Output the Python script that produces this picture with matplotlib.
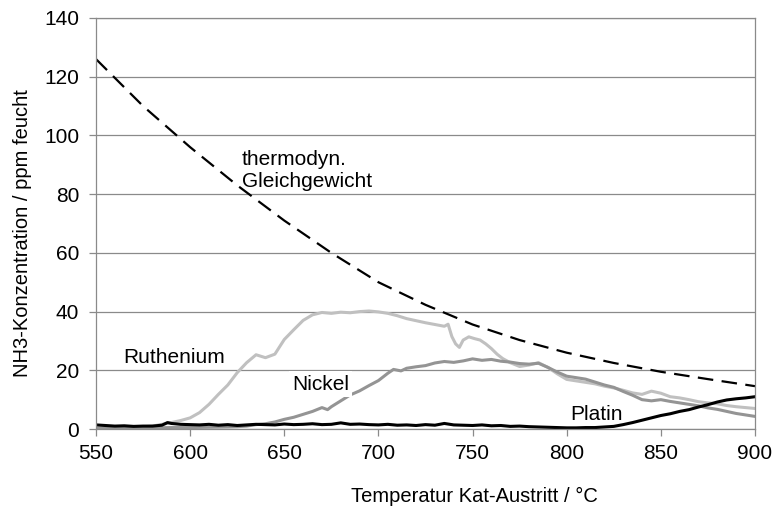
import matplotlib
matplotlib.use("Agg")
import matplotlib.pyplot as plt

plt.rcParams['font.family'] = ['Liberation Sans', 'DejaVu Sans']

# thermodynamisches Gleichgewicht
gg_temp = [550, 575, 600, 625, 650, 675, 700, 725, 750, 775, 800, 825, 850, 875, 900]
gg_ppm = [126, 110, 96, 83, 71, 60, 50, 42.3, 35.6, 30.3, 26, 22.5, 19.5, 17, 14.6]

# Ruthenium
ru_temp = [550, 555, 560, 565, 570, 575, 580, 585, 590, 595, 600, 605, 610, 615, 620,
           625, 630, 635, 640, 645, 650, 655, 660, 665, 670, 675, 680, 685, 690, 695,
           700, 705, 710, 715, 720, 725, 730, 735, 737, 739, 741, 743, 745, 748, 751,
           754, 757, 760, 763, 766, 770, 775, 780, 785, 790, 795, 800, 805, 810, 815,
           820, 825, 830, 835, 840, 845, 850, 855, 860, 865, 870, 875, 880, 885, 890,
           895, 900]
ru_ppm = [0.2, 0.3, 0.4, 0.6, 0.5, 0.8, 1.0, 1.6, 2.2, 2.9, 3.8, 5.6, 8.4, 11.8, 15.0,
          19.2, 22.6, 25.3, 24.3, 25.5, 30.5, 33.8, 37.0, 38.9, 39.7, 39.4, 39.8, 39.6, 40.0, 40.2,
          39.9, 39.4, 38.6, 37.6, 36.9, 36.2, 35.6, 35.0, 35.7, 31.5, 29.0, 27.8, 30.3, 31.4, 30.8,
          30.3, 29.0, 27.4, 25.5, 24.0, 22.6, 21.3, 21.8, 22.6, 21.0, 18.8, 16.9, 16.4, 15.9, 15.4,
          14.6, 14.0, 13.2, 12.3, 11.8, 12.9, 12.2, 11.0, 10.6, 10.0, 9.3, 8.9, 8.6, 8.0, 7.6,
          7.3, 7.0]

# Nickel
ni_temp = [550, 560, 570, 580, 590, 600, 610, 620, 625, 630, 635, 640, 645, 650, 655,
           660, 665, 670, 673, 675, 680, 685, 690, 695, 700, 705, 708, 712, 715, 720,
           725, 730, 735, 740, 745, 750, 755, 760, 765, 770, 775, 780, 785, 790, 795,
           800, 805, 810, 815, 820, 825, 830, 835, 840, 845, 850, 855, 860, 865, 870,
           875, 880, 885, 890, 895, 900]
ni_ppm = [0.2, 0.3, 0.3, 0.4, 0.5, 0.5, 0.6, 0.7, 0.8, 1.0, 1.5, 1.8, 2.4, 3.3, 4.0,
          5.0, 6.0, 7.3, 6.6, 7.6, 9.6, 11.6, 13.0, 14.8, 16.5, 19.0, 20.3, 19.8, 20.7, 21.2,
          21.6, 22.5, 23.0, 22.7, 23.2, 23.9, 23.4, 23.7, 23.1, 22.8, 22.3, 22.1, 22.4, 21.0, 19.4,
          18.0, 17.5, 17.0, 16.0, 15.0, 14.2, 12.8, 11.5, 10.0, 9.6, 10.0, 9.4, 8.9, 8.4, 7.9,
          7.2, 6.7, 6.0, 5.3, 4.8, 4.3]

# Platin
pt_temp = [550, 555, 560, 565, 570, 575, 580, 585, 588, 590, 595, 600, 605, 610, 615,
           620, 625, 630, 635, 640, 645, 650, 655, 660, 665, 670, 675, 680, 685, 690,
           695, 700, 705, 710, 715, 720, 725, 730, 735, 740, 745, 750, 755, 760, 765,
           770, 775, 780, 785, 790, 795, 800, 805, 810, 815, 820, 825, 830, 835, 840,
           845, 850, 855, 860, 865, 870, 875, 880, 885, 890, 895, 900]
pt_ppm = [1.4, 1.2, 1.0, 1.1, 0.9, 1.0, 1.0, 1.3, 2.2, 1.9, 1.6, 1.5, 1.4, 1.6, 1.3,
          1.5, 1.2, 1.4, 1.6, 1.5, 1.4, 1.7, 1.5, 1.6, 1.8, 1.5, 1.6, 2.1, 1.6, 1.7,
          1.5, 1.4, 1.6, 1.3, 1.4, 1.2, 1.5, 1.3, 1.9, 1.4, 1.3, 1.2, 1.4, 1.1, 1.2,
          0.9, 1.0, 0.8, 0.7, 0.6, 0.5, 0.4, 0.4, 0.5, 0.5, 0.7, 0.9, 1.5, 2.2, 3.0,
          3.8, 4.6, 5.2, 6.0, 6.6, 7.5, 8.3, 9.2, 9.9, 10.3, 10.6, 11.0]

fig = plt.figure(figsize=(7.73, 5.07), dpi=100)
ax = fig.add_axes([0.1242, 0.1538, 0.8525, 0.8107])

ax.plot(ru_temp, ru_ppm, color='#c0c0c0', linewidth=2.2)
ax.plot(ni_temp, ni_ppm, color='#949494', linewidth=2.2)
ax.plot(pt_temp, pt_ppm, color='black', linewidth=2.2)
ax.plot(gg_temp, gg_ppm, color='black', linewidth=1.6, linestyle=(0, (7, 3.8)))

ax.set_xlim(550, 900)
ax.set_ylim(0, 140)
ax.set_xticks(range(550, 901, 50))
ax.set_yticks(range(0, 141, 20))
ax.yaxis.grid(True, color='#8a8a8a', linewidth=0.9)
ax.set_axisbelow(True)
for s in ax.spines.values():
    s.set_color('#8a8a8a')
    s.set_linewidth(0.9)
ax.tick_params(axis='both', labelsize=15, color='#8a8a8a', length=5, width=0.9)
ax.tick_params(axis='x', pad=6)
ax.tick_params(axis='y', pad=7)

ax.set_xlabel('Temperatur Kat-Austritt / °C', fontsize=14.5)
ax.xaxis.set_label_coords(0.574, -0.165)
ax.xaxis.label.set_va('center')
ax.set_ylabel('NH3-Konzentration / ppm feucht', fontsize=14.5)
ax.yaxis.set_label_coords(-0.112, 0.477)
ax.yaxis.label.set_va('center')

ax.text(627.5, 88, 'thermodyn.\nGleichgewicht', fontsize=15, ha='left', va='center')
ax.text(564.3, 24.4, 'Ruthenium', fontsize=15, ha='left', va='center')
ax.text(654.1, 15.3, 'Nickel', fontsize=15, ha='left', va='center',
        bbox=dict(boxstyle='square,pad=0.15', facecolor='white', edgecolor='none'))
ax.text(801.7, 4.8, 'Platin', fontsize=15, ha='left', va='center')

fig.savefig('out.png', dpi=100)
